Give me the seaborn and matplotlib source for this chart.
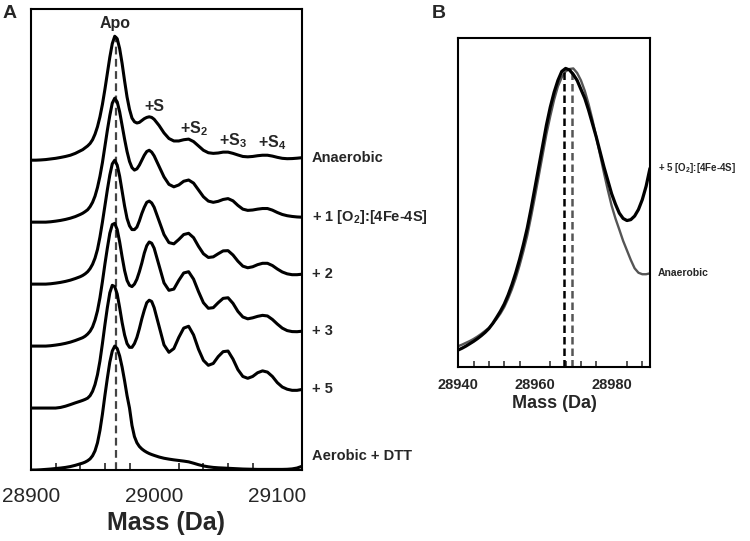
import numpy as np
import pandas as pd
import matplotlib
matplotlib.use("Agg")
import matplotlib.pyplot as plt
from matplotlib.ticker import MultipleLocator, FixedLocator
import seaborn as sns

# ---------------- data ----------------
# Panel A: deconvoluted mass spectra (4 Da steps, 2 Da steps across the apo / +S peaks)
mass_a = np.concatenate([np.arange(28900, 28941, 4), np.arange(28942, 29001, 2), np.arange(29004, 29121, 4)])

sample_names = ["Anaerobic", "+ 1 [O$_2$]:[4Fe-4S]", "+ 2", "+ 3", "+ 5", "Aerobic + DTT"]

anaerobic = [0.0, 0.0, 0.002, 0.005, 0.01, 0.015, 0.022, 0.03, 0.04, 0.055, 0.075,
             0.085, 0.10, 0.115, 0.135, 0.165, 0.21, 0.27, 0.35, 0.45, 0.57, 0.70, 0.83, 0.94, 1.00, 0.98,
             0.90, 0.78, 0.64, 0.51, 0.41, 0.34, 0.31, 0.30, 0.305, 0.32, 0.335, 0.345, 0.35, 0.345, 0.33,
             0.28, 0.22, 0.175, 0.155, 0.155, 0.165, 0.17, 0.15, 0.115, 0.08, 0.06, 0.055, 0.058, 0.065, 0.065,
             0.055, 0.042, 0.03, 0.027, 0.03, 0.036, 0.04, 0.04, 0.033, 0.023, 0.015, 0.012, 0.013, 0.016, 0.02]
o2_1 = [0.0, 0.0, 0.0, 0.0, 0.003, 0.008, 0.014, 0.022, 0.032, 0.045, 0.062,
        0.072, 0.085, 0.10, 0.125, 0.16, 0.21, 0.28, 0.37, 0.48, 0.61, 0.74, 0.86, 0.96, 1.00, 0.97,
        0.89, 0.78, 0.67, 0.57, 0.49, 0.44, 0.42, 0.43, 0.46, 0.50, 0.54, 0.57, 0.58, 0.565, 0.535,
        0.45, 0.365, 0.305, 0.285, 0.30, 0.33, 0.34, 0.315, 0.26, 0.205, 0.17, 0.16, 0.168, 0.183, 0.19,
        0.172, 0.135, 0.105, 0.095, 0.098, 0.105, 0.11, 0.11, 0.097, 0.078, 0.062, 0.052, 0.046, 0.042, 0.04]
o2_2 = [0.0, 0.0, 0.0, 0.0, 0.003, 0.008, 0.014, 0.022, 0.032, 0.045, 0.06,
        0.07, 0.083, 0.10, 0.125, 0.16, 0.21, 0.28, 0.38, 0.50, 0.63, 0.76, 0.88, 0.97, 1.00, 0.96,
        0.87, 0.75, 0.63, 0.53, 0.47, 0.44, 0.44, 0.46, 0.51, 0.57, 0.62, 0.66, 0.67, 0.655, 0.62,
        0.51, 0.40, 0.335, 0.325, 0.36, 0.40, 0.41, 0.375, 0.305, 0.245, 0.215, 0.22, 0.245, 0.268, 0.27,
        0.235, 0.185, 0.145, 0.132, 0.14, 0.157, 0.168, 0.168, 0.15, 0.122, 0.098, 0.083, 0.076, 0.076, 0.08]
o2_3 = [0.0, 0.0, 0.0, 0.0, 0.003, 0.008, 0.014, 0.022, 0.032, 0.045, 0.06,
        0.068, 0.08, 0.097, 0.12, 0.155, 0.21, 0.285, 0.39, 0.52, 0.66, 0.79, 0.91, 0.98, 0.99, 0.94,
        0.84, 0.72, 0.61, 0.53, 0.49, 0.48, 0.50, 0.54, 0.60, 0.67, 0.75, 0.81, 0.84, 0.83, 0.79,
        0.65, 0.51, 0.45, 0.46, 0.53, 0.59, 0.60, 0.54, 0.44, 0.35, 0.305, 0.31, 0.35, 0.385, 0.39,
        0.345, 0.28, 0.235, 0.22, 0.228, 0.24, 0.248, 0.243, 0.215, 0.178, 0.145, 0.125, 0.117, 0.116, 0.12]
o2_5 = [0.0, 0.0, 0.0, 0.0, 0.0, 0.0, 0.005, 0.015, 0.028, 0.042, 0.055,
        0.062, 0.07, 0.08, 0.10, 0.135, 0.19, 0.27, 0.38, 0.52, 0.67, 0.81, 0.93, 0.99, 0.98, 0.92,
        0.81, 0.69, 0.59, 0.52, 0.49, 0.49, 0.52, 0.57, 0.64, 0.72, 0.79, 0.85, 0.87, 0.86, 0.81,
        0.66, 0.51, 0.45, 0.48, 0.57, 0.645, 0.66, 0.59, 0.475, 0.385, 0.345, 0.36, 0.415, 0.455, 0.46,
        0.395, 0.31, 0.255, 0.24, 0.255, 0.285, 0.30, 0.29, 0.255, 0.205, 0.17, 0.152, 0.143, 0.143, 0.15]
aerobic_dtt = [0.0, 0.0, 0.002, 0.005, 0.008, 0.012, 0.016, 0.021, 0.028, 0.038, 0.05,
               0.056, 0.064, 0.075, 0.09, 0.115, 0.155, 0.22, 0.32, 0.45, 0.60, 0.74, 0.87, 0.96, 1.00, 0.98,
               0.92, 0.83, 0.72, 0.60, 0.50, 0.36, 0.27, 0.22, 0.19, 0.17, 0.155, 0.143, 0.133, 0.125, 0.118,
               0.105, 0.095, 0.088, 0.082, 0.077, 0.072, 0.066, 0.055, 0.043, 0.033, 0.026, 0.021, 0.018, 0.016, 0.014,
               0.012, 0.01, 0.008, 0.007, 0.006, 0.005, 0.005, 0.005, 0.005, 0.005, 0.005, 0.006, 0.009, 0.016, 0.03]

spectra_a = [anaerobic, o2_1, o2_2, o2_3, o2_5, aerobic_dtt]

apo_mass = 28969
adduct_labels = ["Apo", "+S", "+S$_2$", "+S$_3$", "+S$_4$"]
adduct_mass = [28968, 29000, 29032, 29064, 29096]

xticks_a = [28900, 29000, 29100]

# Panel B: zoom of the apo peak, 1 Da steps (28940 - 28990)
mass_b = np.arange(28940, 28991, 1)
zoom_names = ["+ 5 [O$_2$]:[4Fe-4S]", "Anaerobic"]
zoom_o2_5 = [0.056, 0.062, 0.069, 0.077, 0.085, 0.094, 0.104, 0.115, 0.128, 0.145,
             0.165, 0.186, 0.21, 0.24, 0.275, 0.315, 0.36, 0.41, 0.465, 0.53,
             0.60, 0.67, 0.74, 0.81, 0.87, 0.92, 0.96, 0.99, 1.00, 0.995,
             0.98, 0.96, 0.93, 0.90, 0.86, 0.815, 0.77, 0.72, 0.67, 0.625,
             0.58, 0.545, 0.515, 0.497, 0.49, 0.493, 0.505, 0.527, 0.56, 0.605, 0.665]
zoom_anaerobic = [0.069, 0.074, 0.08, 0.086, 0.093, 0.101, 0.11, 0.12, 0.13, 0.144,
                  0.16, 0.178, 0.20, 0.228, 0.26, 0.297, 0.34, 0.388, 0.44, 0.503,
                  0.57, 0.64, 0.71, 0.78, 0.84, 0.895, 0.94, 0.97, 0.99, 0.998,
                  1.00, 0.985, 0.96, 0.925, 0.88, 0.828, 0.77, 0.71, 0.65, 0.593,
                  0.54, 0.497, 0.46, 0.422, 0.39, 0.358, 0.33, 0.315, 0.31, 0.31, 0.313]
zoom_centroids = [28967.6, 28969.6]
xticks_b = [28940, 28960, 28980]

# ---------------- style ----------------
sns.set_style("white")
plt.rcParams["font.family"] = ["Liberation Sans", "DejaVu Sans"]
plt.rcParams["mathtext.fontset"] = "custom"
plt.rcParams["mathtext.rm"] = "Liberation Sans:bold"
plt.rcParams["mathtext.it"] = "Liberation Sans:bold"
plt.rcParams["mathtext.bf"] = "Liberation Sans:bold"

fig = plt.figure(figsize=(7.5, 5.41), dpi=100)
axA = fig.add_axes([0.0413, 0.1312, 0.3613, 0.8522])
axB = fig.add_axes([0.611, 0.3222, 0.2556, 0.6081])

# ---------------- panel A ----------------
step = 0.5
n = len(spectra_a)
for i, (name, vals) in enumerate(zip(sample_names, spectra_a)):
    off = (n - 1 - i) * step
    y = np.asarray(vals) + off
    sns.lineplot(x=mass_a, y=y, ax=axA, color="black", lw=2.2, sort=False)
    ly = y[-1] + (0.08 if off == 0 else 0.0)
    axA.text(1.036, ly, name, transform=axA.get_yaxis_transform(), ha="left", va="center",
             fontsize=10.5, fontweight="bold")
for line in axA.get_lines():
    line.set_solid_joinstyle("round")

top_off = (n - 1) * step
axA.vlines(apo_mass, 0, top_off + max(anaerobic), colors="#444444", linestyles=(0, (3.5, 2)), lw=1.6, zorder=1)

for lab, m in zip(adduct_labels, adduct_mass):
    v = top_off + anaerobic[int(np.argmin(np.abs(mass_a - m)))]
    axA.annotate(lab, (m, v), xytext=(0, 6), textcoords="offset points", ha="center",
                 va="baseline", fontsize=11.5, fontweight="bold")

axA.set_xlim(28900, 29120)
axA.set_ylim(0, 3.72)
axA.set_yticks([])
axA.xaxis.set_major_locator(FixedLocator(xticks_a))
axA.xaxis.set_minor_locator(MultipleLocator(20))
axA.tick_params(axis="x", which="major", direction="out", length=6, width=1.4, labelsize=15, pad=6)
axA.tick_params(axis="x", which="minor", direction="in", length=5, width=1.2, bottom=True)
axA.set_xlabel("Mass (Da)", fontsize=18, fontweight="bold", labelpad=4)
axA.set_ylabel("")
for s in axA.spines.values():
    s.set_linewidth(1.5)
    s.set_color("black")

# ---------------- panel B ----------------
sns.lineplot(x=mass_b, y=zoom_anaerobic, ax=axB, color="#555555", lw=1.7, sort=False, zorder=2)
sns.lineplot(x=mass_b, y=zoom_o2_5, ax=axB, color="black", lw=2.3, sort=False, zorder=3)
for line in axB.get_lines():
    line.set_solid_joinstyle("round")
axB.vlines(zoom_centroids[0], 0, max(zoom_o2_5), colors="black", linestyles=(0, (3, 1.6)), lw=1.8)
axB.vlines(zoom_centroids[1], 0, max(zoom_anaerobic), colors="#555555", linestyles=(0, (3, 1.6)), lw=1.8)
axB.text(1.042, zoom_o2_5[-1], zoom_names[0], transform=axB.get_yaxis_transform(), ha="left",
         va="center", fontsize=7, fontweight="bold")
axB.text(1.042, zoom_anaerobic[-1], zoom_names[1], transform=axB.get_yaxis_transform(), ha="left",
         va="center", fontsize=7.5, fontweight="bold")

axB.set_xlim(28940, 28990)
axB.set_ylim(0, 1.103)
axB.set_yticks([])
axB.xaxis.set_major_locator(FixedLocator(xticks_b))
axB.xaxis.set_minor_locator(MultipleLocator(4))
axB.tick_params(axis="x", which="major", direction="out", length=4, width=1.3, labelsize=10.5, pad=4)
axB.tick_params(axis="x", which="minor", direction="in", length=4, width=1.1, bottom=True)
for lab in axB.get_xticklabels():
    lab.set_fontweight("bold")
axB.set_xlabel("Mass (Da)", fontsize=13, fontweight="bold", labelpad=2)
axB.set_ylabel("")
for s in axB.spines.values():
    s.set_linewidth(1.5)
    s.set_color("black")

fig.text(0.003, 0.99, "A", fontsize=14, fontweight="bold", ha="left", va="top")
fig.text(0.576, 0.99, "B", fontsize=14, fontweight="bold", ha="left", va="top")

fig.savefig("out.png", dpi=100, facecolor="white")
